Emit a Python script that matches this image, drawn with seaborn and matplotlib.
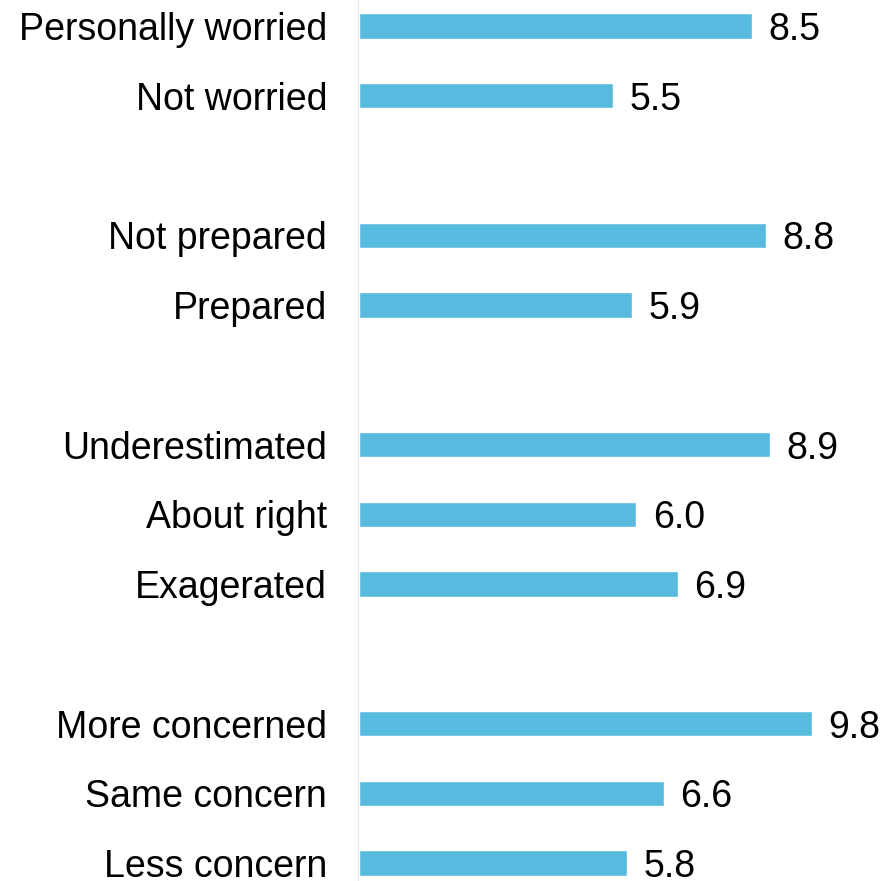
import matplotlib
matplotlib.use("Agg")
import matplotlib.pyplot as plt
import pandas as pd
import seaborn as sns


# one list per block of bars, a blank row is left between blocks
GROUP_LABELS = [
    ["Personally worried", "Not worried"],
    ["Not prepared", "Prepared"],
    ["Underestimated", "About right", "Exagerated"],
    ["More concerned", "Same concern", "Less concern"],
]
GROUP_VALUES = [
    [8.5, 5.5],
    [8.8, 5.9],
    [8.9, 6.0, 6.9],
    [9.8, 6.6, 5.8],
]
BAR_COLOR = "#58badf"


def build_frame():
    rows = []
    pos = 0
    for labels, values in zip(GROUP_LABELS, GROUP_VALUES):
        for label, value in zip(labels, values):
            rows.append({"label": label, "value": value, "pos": pos})
            pos += 1
        pos += 1
    return pd.DataFrame(rows)


def main():
    df = build_frame()

    sns.set_theme(style="white")
    plt.rcParams["font.family"] = ["Liberation Sans", "DejaVu Sans"]

    fig = plt.figure(figsize=(8.94, 8.81), dpi=100)
    ax = fig.add_axes([359 / 894, 0.0, 1 - 359 / 894, 1.0])

    sns.barplot(
        data=df,
        x="value",
        y="pos",
        orient="h",
        native_scale=True,
        color=BAR_COLOR,
        saturation=1,
        width=0.36,
        ax=ax,
    )
    for container in ax.containers:
        texts = ax.bar_label(container, fmt="%.1f", padding=12, fontsize=27, color="black")
        for t in texts:
            t.set_verticalalignment("center_baseline")

    ax.set_xlim(0, 535 / 46.2)
    ax.set_ylim(12.258, -0.373)
    ax.set_yticks(df["pos"])
    ax.set_yticklabels(df["label"])
    ax.set_xticks([])
    ax.set_xlabel("")
    ax.set_ylabel("")
    ax.tick_params(axis="y", length=0, pad=22, labelsize=27, labelcolor="black")

    for side in ["top", "right", "bottom"]:
        ax.spines[side].set_visible(False)
    ax.spines["left"].set_color("#ececec")
    ax.spines["left"].set_linewidth(1.0)
    ax.spines["left"].set_position(("outward", 1))

    fig.savefig("out.png", dpi=100)
    plt.close(fig)


if __name__ == "__main__":
    main()
